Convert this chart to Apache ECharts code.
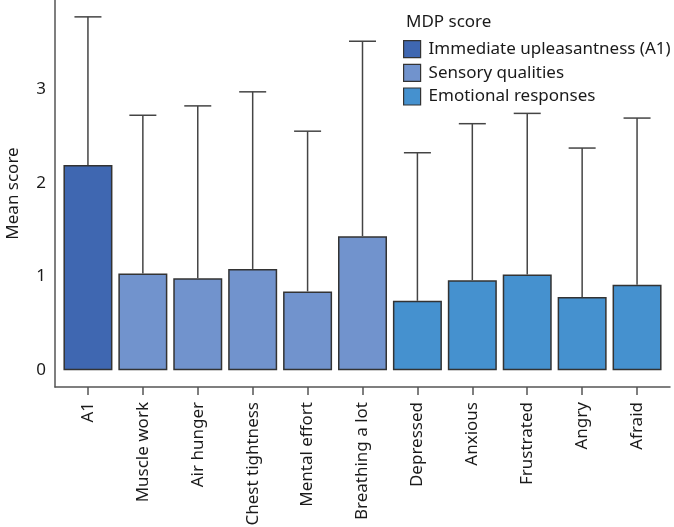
<!DOCTYPE html>
<html>
<head>
<meta charset="utf-8">
<script src="https://cdn.jsdelivr.net/npm/echarts@6/dist/echarts.min.js"></script>
<style>html,body{margin:0;padding:0;background:#fff;}#c{width:674px;height:527px;}</style>
</head>
<body>
<div id="c"></div>
<script>
const categories = ['A1','Muscle work','Air hunger','Chest tightness','Mental effort','Breathing a lot','Depressed','Anxious','Frustrated','Angry','Afraid'];
const groups = ['Immediate upleasantness (A1)','Sensory qualities','Emotional responses'];
const groupOf = [0,1,1,1,1,1,2,2,2,2,2];
const means = [2.19,1.03,0.98,1.08,0.84,1.43,0.74,0.96,1.02,0.78,0.91];
const upper = [3.77,2.72,2.82,2.97,2.55,3.51,2.32,2.63,2.74,2.37,2.69];
const yTicks = [0,1,2,3];
const colors = ['#3f67b1','#7193cd','#4591cf'];

const FONT = 'Noto Sans';
const chart = echarts.init(document.getElementById('c'));

const barSeries = groups.map((g, gi) => ({
  name: g,
  type: 'bar',
  barWidth: 49,
  barGap: '-100%',
  itemStyle: { color: colors[gi], borderColor: '#333', borderWidth: 1.5 },
  data: categories.map((c, i) => groupOf[i] === gi ? [i, means[i]] : null).filter(d => d),
  z: 2
}));

const errSeries = {
  type: 'custom',
  silent: true,
  z: 3,
  data: categories.map((c, i) => [i, means[i], upper[i]]),
  renderItem: function (params, api) {
    const x = api.value(0);
    const p0 = api.coord([x, api.value(1)]);
    const p1 = api.coord([x, api.value(2)]);
    const half = 13.5;
    const style = { stroke: '#444', lineWidth: 1.5 };
    return {
      type: 'group',
      children: [
        { type: 'line', shape: { x1: p0[0], y1: p0[1], x2: p1[0], y2: p1[1] }, style },
        { type: 'line', shape: { x1: p1[0] - half, y1: p1[1], x2: p1[0] + half, y2: p1[1] }, style }
      ]
    };
  }
};

chart.setOption({
  animation: false,
  textStyle: { fontFamily: FONT },
  grid: { left: 55, right: 4, top: 0, bottom: 140, outerBoundsMode: 'none', containLabel: false },
  title: {
    text: 'MDP score', left: 401, top: 9,
    textStyle: { fontFamily: FONT, fontSize: 17, fontWeight: 'normal', color: '#1a1a1a' }
  },
  legend: {
    orient: 'vertical', left: 398, top: 35,
    icon: 'rect', itemWidth: 17, itemHeight: 17, itemGap: 5.5,
    textStyle: { fontFamily: FONT, fontSize: 17, color: '#1a1a1a', padding: [0, 0, 0, 3] },
    itemStyle: { borderColor: '#333', borderWidth: 1.2 },
    data: groups
  },
  xAxis: {
    type: 'value', min: -0.6, max: 10.6,
    splitLine: { show: false },
    axisLine: { show: true, onZero: false, lineStyle: { color: '#555', width: 1.5 } },
    axisTick: { show: true, customValues: categories.map((c, i) => i), length: 8, lineStyle: { color: '#555', width: 1.5 } },
    axisLabel: {
      customValues: categories.map((c, i) => i),
      rotate: 90, margin: 15, fontSize: 17, color: '#1a1a1a', fontFamily: FONT,
      formatter: v => categories[Math.round(v)]
    }
  },
  yAxis: {
    type: 'value', min: -0.18, max: 3.95,
    name: 'Mean score', nameLocation: 'middle', nameGap: 33,
    nameTextStyle: { fontFamily: FONT, fontSize: 17, color: '#1a1a1a' },
    splitLine: { show: false },
    axisLine: { show: true, onZero: false, lineStyle: { color: '#555', width: 1.5 } },
    axisTick: { show: false, customValues: yTicks },
    axisLabel: { customValues: yTicks, margin: 9, fontSize: 17, color: '#1a1a1a', fontFamily: FONT }
  },
  series: [...barSeries, errSeries]
});
</script>
</body>
</html>
